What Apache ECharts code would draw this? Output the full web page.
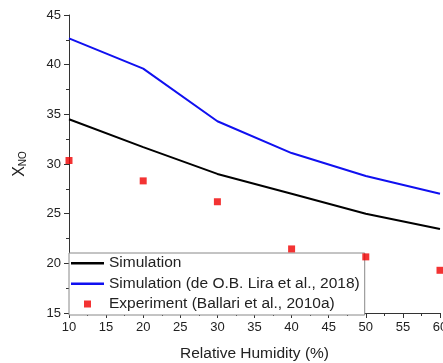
<!DOCTYPE html>
<html><head><meta charset="utf-8">
<script src="https://cdn.jsdelivr.net/npm/echarts@6/dist/echarts.min.js"></script>
<style>html,body{margin:0;padding:0;background:#fff}#c{width:443px;height:363px}</style>
</head><body><div id="c"></div>
<script>
const humidity = [10, 20, 30, 40, 50, 60];
const simulation = [34.5, 31.7, 29.0, 27.0, 25.0, 23.45];
const simulationLira = [42.65, 39.6, 34.3, 31.1, 28.8, 27.0];
const experiment = [30.35, 28.3, 26.2, 21.45, 20.65, 19.3];
const names = ['Simulation', 'Simulation (de O.B. Lira et al., 2018)', 'Experiment (Ballari et al., 2010a)'];

const pair = (xs, ys) => xs.map((x, i) => [x, ys[i]]);
const font = 'Liberation Sans, Arial, sans-serif';
const lineIcon = 'path://M0,0h0.01v0.01h-0.01z M32.99,13.99h0.01v0.01h-0.01z M0,6h33v2.4h-33z';
const rectIcon = 'path://M0,0h0.01v0.01h-0.01z M32.99,13.99h0.01v0.01h-0.01z M13,3.5h7v7h-7z';
const chart = echarts.init(document.getElementById('c'));
chart.setOption({
  animation: false,
  grid: { left: 69, right: 3, top: 15, bottom: 50, outerBoundsMode: 'none', containLabel: false },
  xAxis: {
    type: 'value', min: 10, max: 60, interval: 5,
    name: 'Relative Humidity (%)', nameLocation: 'middle', nameGap: 33,
    nameTextStyle: { fontFamily: font, fontSize: 15.5, color: '#222' },
    axisLine: { lineStyle: { color: '#333', width: 1 } },
    axisTick: { length: 5, lineStyle: { color: '#333' } },
    minorTick: { show: true, splitNumber: 2, length: 3, lineStyle: { color: '#333' } },
    axisLabel: { fontFamily: font, fontSize: 13, color: '#222', margin: 8 },
    splitLine: { show: false }
  },
  yAxis: {
    type: 'value', min: 15, max: 45, interval: 5,
    name: '{m|X}{s|NO}', nameLocation: 'middle', nameGap: 41, nameRotate: 90,
    nameTextStyle: { rich: { m: { fontFamily: font, fontSize: 16, color: '#222' }, s: { fontFamily: font, fontSize: 10, color: '#222', verticalAlign: 'bottom', padding: [7, 0, 0, 0] } } },
    axisLine: { show: true, lineStyle: { color: '#333', width: 1 } },
    axisTick: { show: true, length: 5, lineStyle: { color: '#333' } },
    minorTick: { show: true, splitNumber: 2, length: 3, lineStyle: { color: '#333' } },
    axisLabel: { fontFamily: font, fontSize: 13, color: '#222', margin: 8 },
    splitLine: { show: false }
  },
  legend: {
    orient: 'vertical', left: 69, top: 253,
    padding: [2, 5, 3, 2], itemGap: 4.5, itemWidth: 33, itemHeight: 14,
    backgroundColor: '#fff', borderColor: '#888', borderWidth: 1, borderRadius: 0,
    textStyle: { fontFamily: font, fontSize: 15.5, color: '#222' },
    data: [
      { name: names[0], icon: lineIcon },
      { name: names[1], icon: lineIcon },
      { name: names[2], icon: rectIcon }
    ]
  },
  series: [
    { name: names[0], type: 'line', data: pair(humidity, simulation), symbol: 'none', lineStyle: { color: '#000', width: 2 }, itemStyle: { color: '#000' } },
    { name: names[1], type: 'line', data: pair(humidity, simulationLira), symbol: 'none', lineStyle: { color: '#1010f0', width: 2 }, itemStyle: { color: '#1010f0' } },
    { name: names[2], type: 'scatter', data: pair(humidity, experiment), symbol: 'rect', symbolSize: 7, itemStyle: { color: '#f00000' }, z: 5 }
  ]
});
</script></body></html>
